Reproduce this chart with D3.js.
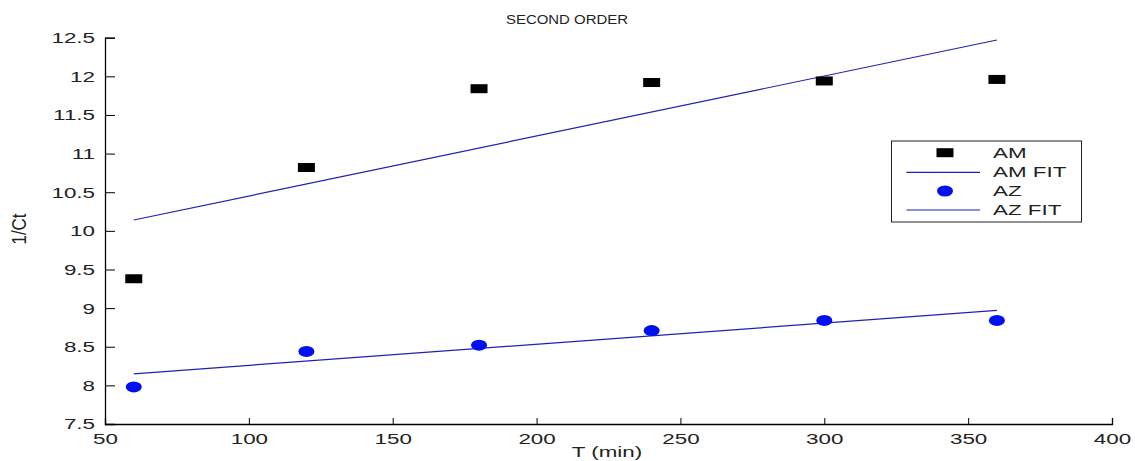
<!DOCTYPE html>
<html>
<head>
<meta charset="utf-8">
<script src="https://cdn.jsdelivr.net/npm/d3@7"></script>
<style>
  body { margin: 0; background: #fff; }
  svg text { font-family: "Liberation Sans", Arial, sans-serif; fill: #222; }
</style>
</head>
<body>
<svg id="chart"></svg>
<script>
// data
const times   = [60, 120, 180, 240, 300, 360];
const amVals  = [9.38, 10.82, 11.84, 11.92, 11.94, 11.96];
const azVals  = [7.98, 8.44, 8.52, 8.71, 8.84, 8.84];
const fitX    = [60, 360];
const amFit   = [10.14, 12.47];
const azFit   = [8.15, 8.97];
const xTicks  = [50, 100, 150, 200, 250, 300, 350, 400];
const yTicks  = [7.5, 8, 8.5, 9, 9.5, 10, 10.5, 11, 11.5, 12, 12.5];
const legendLabels = ['AM', 'AM FIT', 'AZ', 'AZ FIT'];

const W = 1135, H = 461;
const m = { left: 105, right: 23, top: 37.7, bottom: 37 };
const LINE = '#2020b0', DOT = '#0010f0';
const SX = 1.6; // the original image is stretched sideways, text included

const svg = d3.select('#chart').attr('width', W).attr('height', H);

const x = d3.scaleLinear().domain([50, 400]).range([m.left, W - m.right]);
const y = d3.scaleLinear().domain([7.5, 12.5]).range([H - m.bottom, m.top]);

// axes (MATLAB style: ticks point inward, no box)
const xAxis = svg.append('g').attr('transform', `translate(0,${H - m.bottom})`)
  .call(d3.axisBottom(x).tickValues(xTicks).tickSize(-6).tickPadding(10).tickFormat(d3.format('')));
const yAxis = svg.append('g').attr('transform', `translate(${m.left},0)`)
  .call(d3.axisLeft(y).tickValues(yTicks).tickSize(-10).tickPadding(10).tickFormat(d3.format('')));
[xAxis, yAxis].forEach(a => {
  a.select('.domain').attr('stroke', '#000').attr('stroke-width', 1.3);
  a.selectAll('.tick line').attr('stroke', '#000');
  a.selectAll('.tick text').attr('font-size', 14).attr('font-family', '"Liberation Sans", Arial, sans-serif')
    .attr('fill', '#222').attr('transform', `scale(${SX},1)`);
});
yAxis.selectAll('.tick text').attr('dy', '0.35em').attr('x', -10 / SX);

// fit lines
const line = d3.line().x(d => x(d[0])).y(d => y(d[1]));
[amFit, azFit].forEach(f => {
  svg.append('path').datum(fitX.map((t, i) => [t, f[i]]))
    .attr('d', line).attr('fill', 'none').attr('stroke', LINE).attr('stroke-width', 1.2);
});

// AM squares
svg.selectAll('.am').data(times).join('rect')
  .attr('x', (d) => x(d) - 8.5).attr('y', (d, i) => y(amVals[i]) - 4.5)
  .attr('width', 17).attr('height', 9).attr('fill', '#000');

// AZ circles
svg.selectAll('.az').data(times).join('ellipse')
  .attr('cx', d => x(d)).attr('cy', (d, i) => y(azVals[i]))
  .attr('rx', 8).attr('ry', 5.5).attr('fill', DOT);

// title and labels
svg.append('text').attr('transform', 'translate(567,24) scale(1.15,1)').attr('text-anchor', 'middle')
  .attr('font-size', 13).text('SECOND ORDER');
svg.append('text').attr('transform', `translate(607,457) scale(${SX},1)`).attr('text-anchor', 'middle')
  .attr('font-size', 14).text('T (min)');
svg.append('text').attr('transform', 'translate(26,229) rotate(-90) scale(1.2,1.5)').attr('text-anchor', 'middle')
  .attr('font-size', 14).text('1/Ct');

// legend
const lg = svg.append('g');
lg.append('rect').attr('x', 891.5).attr('y', 141).attr('width', 190).attr('height', 81)
  .attr('fill', '#fff').attr('stroke', '#222').attr('stroke-width', 1);
const rowsY = [152.7, 172.3, 191, 210];
legendLabels.forEach((lab, i) => {
  const yy = rowsY[i];
  if (i === 0) lg.append('rect').attr('x', 936.5).attr('y', yy - 4.5).attr('width', 17).attr('height', 9).attr('fill', '#000');
  if (i === 2) lg.append('ellipse').attr('cx', 945).attr('cy', yy).attr('rx', 8).attr('ry', 5.5).attr('fill', DOT);
  if (i === 1 || i === 3) lg.append('line').attr('x1', 906.5).attr('x2', 980).attr('y1', yy).attr('y2', yy)
    .attr('stroke', LINE).attr('stroke-width', 1.2);
  lg.append('text').attr('transform', `translate(993,${yy}) scale(${SX},1)`).attr('dy', '0.35em')
    .attr('font-size', 14).text(lab);
});
</script>
</body>
</html>
